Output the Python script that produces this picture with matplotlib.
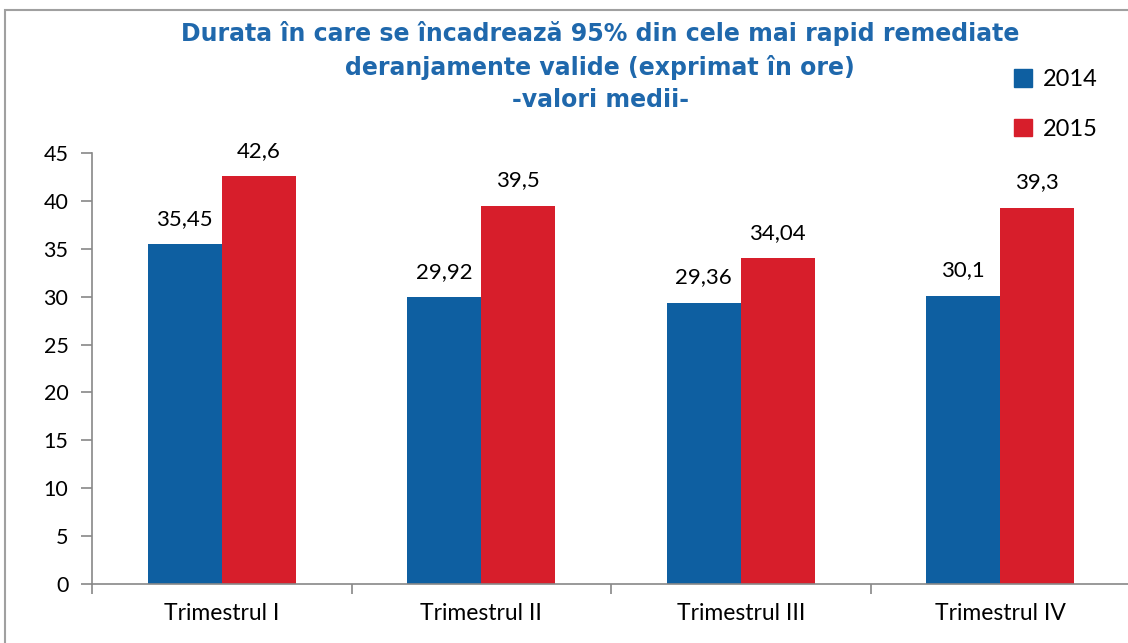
import matplotlib
matplotlib.use("Agg")
import matplotlib.pyplot as plt
import numpy as np
from matplotlib.patches import Rectangle

categories = ["Trimestrul I", "Trimestrul II", "Trimestrul III", "Trimestrul IV"]
series_names = ["2014", "2015"]
values_2014 = [35.45, 29.92, 29.36, 30.1]
values_2015 = [42.6, 39.5, 34.04, 39.3]
yticks = [0, 5, 10, 15, 20, 25, 30, 35, 40, 45]
title = "Durata în care se încadrează 95% din cele mai rapid remediate\nderanjamente valide (exprimat în ore)\n-valori medii-"

c2014 = "#0E5FA1"
c2015 = "#D71E2B"
W, H = 1128, 643
fig = plt.figure(figsize=(W / 100, H / 100), dpi=100)
fig.patch.set_facecolor("white")
# figure border
fig.patches.append(Rectangle((5 / W, -0.1), 1.2, 1.1 - 10 / H, transform=fig.transFigure,
                             fill=False, edgecolor="#A0A0A0", linewidth=1.5))

ax = fig.add_axes([92 / W, 59 / H, (1130 - 92) / W, 431 / H])
x = np.arange(len(categories))
bw = 0.285
b1 = ax.bar(x - bw / 2, values_2014, bw, color=c2014, label=series_names[0])
b2 = ax.bar(x + bw / 2, values_2015, bw, color=c2015, label=series_names[1])

font = "Lato"
for bars, vals in ((b1, values_2014), (b2, values_2015)):
    for r, v in zip(bars, vals):
        ax.annotate(str(v).replace(".", ","), (r.get_x() + r.get_width() / 2, v),
                    xytext=(0, 11), textcoords="offset points", ha="center", va="bottom",
                    fontsize=16, family=font, color="black")

ax.set_xlim(-0.5, len(categories) - 0.5)
ax.set_ylim(0, 45)
ax.set_yticks(yticks)
ax.set_yticklabels([str(t) for t in yticks], fontsize=15.5, family=font)
ax.set_xticks(x)
ax.set_xticklabels(categories, fontsize=16.5, family=font)
ax.tick_params(axis="x", length=0, pad=14)
ax.set_xticks(np.arange(-0.5, len(categories), 1), minor=True)
ax.tick_params(axis="x", which="minor", length=7, color="#888888", width=1.2)
ax.tick_params(axis="y", length=8, color="#888888", width=1.2, pad=9)
for s in ("top", "right"):
    ax.spines[s].set_visible(False)
for s in ("left", "bottom"):
    ax.spines[s].set_color("#888888")
    ax.spines[s].set_linewidth(1.2)

fig.text(600 / W, 1 - 21 / H, title, ha="center", va="top", fontsize=17, fontweight="bold",
         color="#1F68AC", family="DejaVu Sans", linespacing=1.43)

handles = [Rectangle((0, 0), 1, 1, color=c2014), Rectangle((0, 0), 1, 1, color=c2015)]
fig.legend(handles, series_names, loc="upper left", bbox_to_anchor=(993 / W, 1 - 48 / H),
           frameon=False, prop={"family": font, "size": 17},
           handlelength=0.75, handleheight=0.75, handletextpad=0.45, labelspacing=1.2)

fig.savefig("out.png", dpi=100)
